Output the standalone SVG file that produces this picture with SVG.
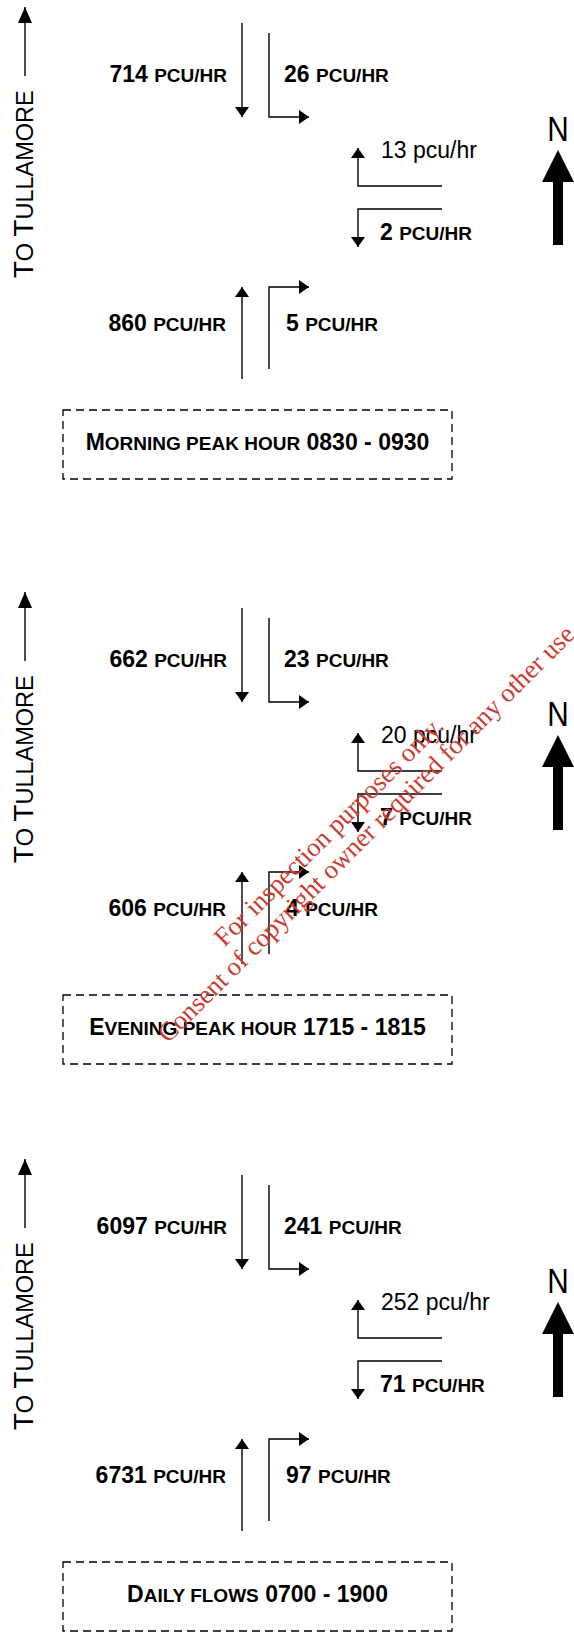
<svg xmlns="http://www.w3.org/2000/svg" width="574" height="1632" viewBox="0 0 574 1632">
<style>
.ln{stroke:#000;stroke-width:1.4;fill:none}
.box{fill:none;stroke:#000;stroke-width:1.3;stroke-dasharray:8 5}
.b{font-family:"Liberation Sans",Arial,sans-serif;font-weight:bold;font-size:23px;fill:#000}
.sc{font-size:19px}
.r{font-family:"Liberation Sans",Arial,sans-serif;font-size:23px;fill:#000}
.tl{font-size:23.5px}
.big{font-size:27.5px}
.n{font-family:"Liberation Sans",Arial,sans-serif;font-size:35px;fill:#000}
.wm{font-family:"Liberation Serif","Times New Roman",serif;font-size:26.5px;fill:#cc3b2f}
</style>
<defs>
<marker id="ah" viewBox="0 0 10 14" refX="10" refY="7" markerWidth="10" markerHeight="14" markerUnits="userSpaceOnUse" orient="auto"><path d="M0,0 L10,7 L0,14 Z" fill="#000"/></marker>
<marker id="ahL" viewBox="0 0 16 14" refX="16" refY="7" markerWidth="16" markerHeight="14" markerUnits="userSpaceOnUse" orient="auto"><path d="M0,0 L16,7 L0,14 Z" fill="#000"/></marker>
<g id="sec">
  <g id="arrows">
    <path class="ln" d="M25,76 V7" marker-end="url(#ahL)"/>
    <path class="ln" d="M242,23 V117" marker-end="url(#ah)"/>
    <path class="ln" d="M269,33 V117 H309" marker-end="url(#ah)"/>
    <path class="ln" d="M442,186 H358 V148" marker-end="url(#ah)"/>
    <path class="ln" d="M442,209 H358 V247" marker-end="url(#ah)"/>
    <path class="ln" d="M242,379 V287" marker-end="url(#ah)"/>
    <path class="ln" d="M269,369 V287 H309" marker-end="url(#ah)"/>
    <path d="M558,150 L574,182 L563,182 L563,245 L553,245 L553,182 L542,182 Z" fill="#000"/>
  </g>
  <text class="r tl" transform="translate(33,278) rotate(-90)"><tspan class="big">T</tspan>O <tspan class="big">T</tspan>ULLAMORE</text>
  <text class="n" transform="translate(558,141) scale(0.85,1)" text-anchor="middle">N</text>
  <rect class="box" x="63" y="410" width="389" height="69"/>
</g>
</defs>

<g id="morning">
  <use href="#sec"/>
  <text class="b" x="227" y="82" text-anchor="end">714 <tspan class="sc">PCU/HR</tspan></text>
  <text class="b" x="284" y="82">26 <tspan class="sc">PCU/HR</tspan></text>
  <text class="r" x="381" y="158">13 pcu/hr</text>
  <text class="b" x="380" y="240">2 <tspan class="sc">PCU/HR</tspan></text>
  <text class="b" x="226" y="331" text-anchor="end">860 <tspan class="sc">PCU/HR</tspan></text>
  <text class="b" x="286" y="331">5 <tspan class="sc">PCU/HR</tspan></text>
  <text class="b" x="257.5" y="450" text-anchor="middle">M<tspan class="sc">ORNING PEAK HOUR</tspan> 0830 - 0930</text>
</g>

<g id="evening" transform="translate(0,585)">
  <use href="#sec"/>
  <text class="b" x="227" y="82" text-anchor="end">662 <tspan class="sc">PCU/HR</tspan></text>
  <text class="b" x="284" y="82">23 <tspan class="sc">PCU/HR</tspan></text>
  <text class="r" x="381" y="158">20 pcu/hr</text>
  <text class="b" x="380" y="240">7 <tspan class="sc">PCU/HR</tspan></text>
  <text class="b" x="226" y="331" text-anchor="end">606 <tspan class="sc">PCU/HR</tspan></text>
  <text class="b" x="286" y="331">4 <tspan class="sc">PCU/HR</tspan></text>
  <text class="b" x="257.5" y="450" text-anchor="middle">E<tspan class="sc">VENING PEAK HOUR</tspan> 1715 - 1815</text>
</g>

<g id="daily" transform="translate(0,1152)">
  <use href="#sec"/>
  <text class="b" x="227" y="82" text-anchor="end">6097 <tspan class="sc">PCU/HR</tspan></text>
  <text class="b" x="284" y="82">241 <tspan class="sc">PCU/HR</tspan></text>
  <text class="r" x="381" y="158">252 pcu/hr</text>
  <text class="b" x="380" y="240">71 <tspan class="sc">PCU/HR</tspan></text>
  <text class="b" x="226" y="331" text-anchor="end">6731 <tspan class="sc">PCU/HR</tspan></text>
  <text class="b" x="286" y="331">97 <tspan class="sc">PCU/HR</tspan></text>
  <text class="b" x="257.5" y="450" text-anchor="middle">D<tspan class="sc">AILY FLOWS</tspan> 0700 - 1900</text>
</g>

<g id="watermark" transform="translate(168,1044) rotate(-45)">
  <text class="wm" x="108" y="-28">For inspection purposes only.</text>
  <text class="wm" x="0" y="0">Consent of copyright owner required for any other use.</text>
</g>
</svg>
